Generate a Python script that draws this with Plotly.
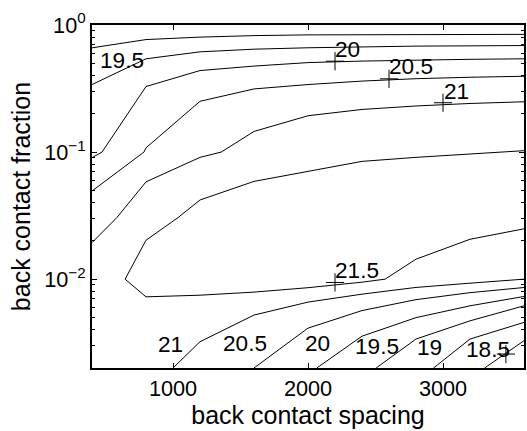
import numpy as np
import plotly.graph_objects as go

# ---- contour paths (x = back contact spacing, y = back contact fraction)
c19_top_x = [400, 800, 1200, 1600, 2000, 3600]
c19_top_y = [0.661, 0.768, 0.803, 0.825, 0.836, 0.844]

c195_top_x = [400, 800, 1200, 1600, 2000, 2400, 2800, 3600]
c195_top_y = [0.340, 0.542, 0.615, 0.645, 0.662, 0.674, 0.682, 0.689]

c20_top_x = [400, 474, 800, 1200, 1600, 2000, 2400, 2800, 3200, 3600]
c20_top_y = [0.0904, 0.100, 0.328, 0.438, 0.475, 0.506, 0.520, 0.530, 0.537, 0.542]

c205_top_x = [400, 785, 800, 1200, 1600, 2000, 2400, 2800, 3200, 3600]
c205_top_y = [0.0494, 0.100, 0.108, 0.251, 0.314, 0.340, 0.362, 0.378, 0.388, 0.395]

c21_top_x = [400, 584, 800, 1200, 1357, 1600, 2000, 2400, 2800, 3200, 3600]
c21_top_y = [0.0194, 0.0305, 0.0583, 0.0909, 0.100, 0.1454, 0.1932, 0.2165, 0.2306, 0.2413, 0.2488]

c215_x = [3600, 3200, 2800, 2400, 2000, 1600, 1200, 1037, 800, 645,
          800, 1200, 1600, 2000, 2400, 2571, 2800, 3200, 3600]
c215_y = [0.1026, 0.0968, 0.0909, 0.0845, 0.0705, 0.0588, 0.0420, 0.0305, 0.02025, 0.0100,
          0.00726, 0.00748, 0.00791, 0.00857, 0.00947, 0.0100, 0.01436, 0.0206, 0.0249]

c21_bot_x = [1000, 1200, 1600, 2000, 2400, 2800, 3200, 3600]
c21_bot_y = [0.002, 0.00322, 0.00522, 0.00660, 0.00762, 0.00861, 0.0093, 0.0100]

c205_bot_x = [1600, 2000, 2400, 2800, 3200, 3600]
c205_bot_y = [0.002, 0.00412, 0.00566, 0.0069, 0.00783, 0.0086]

c20_bot_x = [2065, 2400, 2800, 3200, 3600]
c20_bot_y = [0.002, 0.00356, 0.00498, 0.00617, 0.00731]

c195_bot_x = [2505, 2800, 3200, 3600]
c195_bot_y = [0.002, 0.00338, 0.0047, 0.00617]

c19_bot_x = [2930, 3200, 3600]
c19_bot_y = [0.002, 0.00338, 0.00457]

c185_bot_x = [3308, 3600]
c185_bot_y = [0.002, 0.00328]

# ---- contour labels
label_text = ["19.5", "20", "20.5", "21", "21.5", "21", "20.5", "20", "19.5", "19", "18.5"]
label_x = [461, 2203, 2600, 3004, 2203, 890, 1369, 1977, 2351, 2804, 3172]
label_y = [0.527, 0.641, 0.474, 0.301, 0.01162, 0.00304, 0.00309, 0.00309, 0.00295, 0.00291, 0.00282]

plus_x = [2200, 2600, 3000, 2200, 3466]
plus_y = [0.519, 0.377, 0.2445, 0.00942, 0.002575]

# ---- axis ticks
x_ticks = [1000, 2000, 3000]
y_ticks = [0.01, 0.1, 1]
y_ticktext = ["10<sup>\u22122</sup>", "10<sup>\u22121</sup>", "10<sup>0</sup>"]
y_minor = [k * 10.0 ** e for e in (-3, -2, -1) for k in range(2, 10) if k * 10.0 ** e >= 0.002]

FONT = "Liberation Sans, Arial, Helvetica, sans-serif"

paths = [
    (c19_top_x, c19_top_y), (c195_top_x, c195_top_y), (c20_top_x, c20_top_y),
    (c205_top_x, c205_top_y), (c21_top_x, c21_top_y), (c215_x, c215_y),
    (c21_bot_x, c21_bot_y), (c205_bot_x, c205_bot_y), (c20_bot_x, c20_bot_y),
    (c195_bot_x, c195_bot_y), (c19_bot_x, c19_bot_y), (c185_bot_x, c185_bot_y),
]

fig = go.Figure()
for px, py in paths:
    fig.add_trace(go.Scatter(x=px, y=py, mode="lines",
                             line=dict(color="black", width=1), hoverinfo="skip"))

fig.add_trace(go.Scatter(x=plus_x, y=plus_y, mode="markers",
                         marker=dict(symbol="cross-thin", size=13,
                                     line=dict(color="black", width=1)),
                         hoverinfo="skip"))

for t, lx, ly in zip(label_text, label_x, label_y):
    fig.add_annotation(x=lx, y=np.log10(ly), text=t, showarrow=False,
                       xanchor="left", yanchor="middle", xshift=-2,
                       font=dict(family=FONT, size=22.6, color="black"))

fig.update_layout(
    width=527, height=431,
    margin=dict(l=92, r=1, t=25, b=63),
    paper_bgcolor="white", plot_bgcolor="white",
    showlegend=False,
    font=dict(family=FONT, color="black"),
)
fig.update_xaxes(
    range=[400, 3600], tickvals=x_ticks, ticks="inside", ticklen=5,
    tickcolor="black", tickwidth=1, showline=True, linecolor="black",
    linewidth=2, mirror="ticks", showgrid=False, zeroline=False,
    tickfont=dict(size=21.7, family=FONT),
    title=dict(text="back contact spacing", font=dict(size=25, family=FONT), standoff=2),
)
fig.update_yaxes(
    type="log", range=[np.log10(0.002), 0], tickvals=y_ticks, ticktext=y_ticktext,
    ticks="inside", ticklen=5, tickcolor="black", tickwidth=1,
    minor=dict(tickvals=y_minor, ticks="inside", ticklen=3, tickcolor="black", showgrid=False),
    showline=True, linecolor="black", linewidth=2, mirror="ticks",
    showgrid=False, zeroline=False,
    tickfont=dict(size=21.7, family=FONT),
    title=dict(text="back contact fraction", font=dict(size=25, family=FONT), standoff=6),
)

fig.write_html("out.html", config={"displayModeBar": False, "staticPlot": True},
               post_script="document.body.style.margin='0';document.body.style.overflow='hidden';")
